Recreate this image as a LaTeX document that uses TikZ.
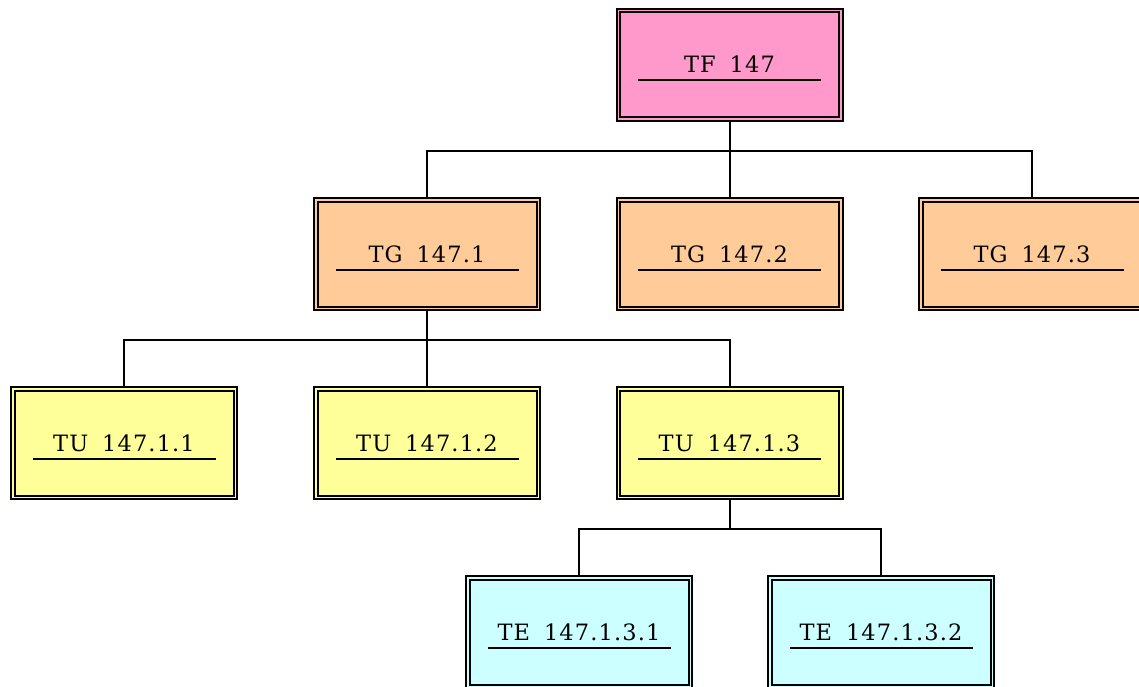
\documentclass[tikz,border=0pt]{standalone}
\usepackage{fontspec}
\setmainfont{DejaVu Serif}[LetterSpace=5]
\usetikzlibrary{calc}
\definecolor{cpink}{HTML}{FF99CC}
\definecolor{corange}{HTML}{FFCC99}
\definecolor{cyellow}{HTML}{FFFF99}
\definecolor{ccyan}{HTML}{CCFFFF}
\tikzset{
  box/.style={draw=black, line width=2pt, rectangle,
    minimum width=226pt, minimum height=112pt, inner sep=0pt,
    font=\fontsize{22.5}{27}\selectfont, text=black},
  inbox/.style={draw=black, line width=2pt},
  uline/.style={line width=2pt},
  conn/.style={line width=2pt}
}
\newcommand{\bx}[4]{%
  \node[box, fill=#4] (#1) at (#2) {#3};
  \draw[inbox] ($(#1.north west)+(4.5,4.5)$) rectangle ($(#1.south east)+(-4.5,-4.5)$);
  \draw[uline] ($(#1.center)+(-91.5,15.5)$) -- ($(#1.center)+(91.5,15.5)$);
}
\begin{document}
\begin{tikzpicture}[x=1pt,y=-1pt]
\useasboundingbox (0,0) rectangle (1139,686);
\clip (0,0) rectangle (1139,686);
\bx{tf}{729.5,64.5}{TF\hspace{0.25em} 147}{cpink}
\bx{tga}{427,254}{TG\hspace{0.25em} 147.1}{corange}
\bx{tgb}{729.5,254}{TG\hspace{0.25em} 147.2}{corange}
\bx{tgc}{1032,254}{TG\hspace{0.25em} 147.3}{corange}
\bx{tua}{124,443}{TU\hspace{0.25em} 147.1.1}{cyellow}
\bx{tub}{427,443}{TU\hspace{0.25em} 147.1.2}{cyellow}
\bx{tuc}{729.5,443}{TU\hspace{0.25em} 147.1.3}{cyellow}
\bx{tea}{579,632}{TE\hspace{0.25em} 147.1.3.1}{ccyan}
\bx{teb}{881,632}{TE\hspace{0.25em} 147.1.3.2}{ccyan}
\coordinate (j1) at ($(tf.south)+(0,29)$);
\coordinate (j2) at ($(tga.south)+(0,29)$);
\coordinate (j3) at ($(tuc.south)+(0,29)$);
\draw[conn] (tf.south) -- (j1);
\draw[conn] (j1) -| (tga.north);
\draw[conn] (j1) -| (tgc.north);
\draw[conn] (j1) -- (tgb.north);
\draw[conn] (tga.south) -- (j2);
\draw[conn] (j2) -| (tua.north);
\draw[conn] (j2) -| (tuc.north);
\draw[conn] (j2) -- (tub.north);
\draw[conn] (tuc.south) -- (j3);
\draw[conn] (j3) -| (tea.north);
\draw[conn] (j3) -| (teb.north);
\end{tikzpicture}
\end{document}
